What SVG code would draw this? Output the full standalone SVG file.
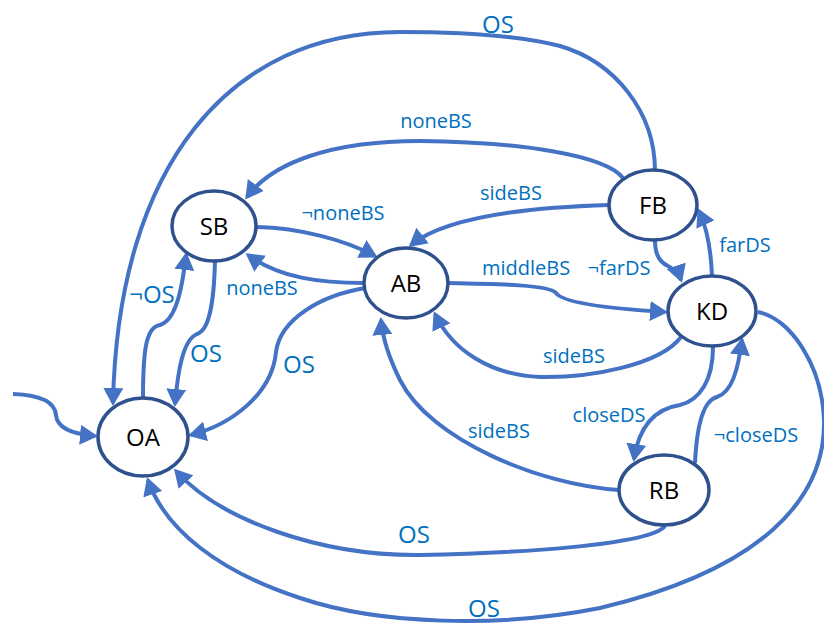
<svg xmlns="http://www.w3.org/2000/svg" width="824" height="624" viewBox="0 0 824 624">
<style>
.e{fill:none;stroke:#4472C4;stroke-width:4;marker-end:url(#ah)}
.n ellipse{fill:#fff;stroke:#2F528F;stroke-width:3.5}
.n text{font-family:"Open Sans","Liberation Sans",sans-serif;font-size:24px;fill:#000;text-anchor:middle}
.l{font-family:"Open Sans","Liberation Sans",sans-serif;font-size:20px;fill:#0070C0;text-anchor:middle}
.o{font-size:24px}
</style>
<defs>
<marker id="ah" viewBox="0 0 18 20" markerWidth="18" markerHeight="20" refX="15" refY="10" orient="auto" markerUnits="userSpaceOnUse">
<path d="M0,0 L18,10 L0,20 z" fill="#4472C4"/>
</marker>
</defs>
<rect width="824" height="624" fill="#fff"/>
<g id="edges">
<path class="e" d="M13,394 C40,395 55,402 56,415 C57,428 72,434 95,436"/>
<path class="e" d="M655,171 C655,112 615,62 560,46 C520,36 460,32 400,32 C230,32 118,165 113,403"/>
<path class="e" d="M623,178 C605,155 520,142 420,141 C330,141 272,163 247,197"/>
<path class="e" d="M609,205 C540,207 448,215 411,245"/>
<path class="e" d="M257,227 C300,228 345,240 375,256"/>
<path class="e" d="M364,283 C320,283 280,278 248,255"/>
<path class="e" d="M143,398 C143,350 146,327 160,325 C173,321 181,300 186,255"/>
<path class="e" d="M215,261 C214,300 210,330 197,334 C183,340 178,370 175,404"/>
<path class="e" d="M366,288 C320,295 280,320 276,352 C272,395 230,425 191,435"/>
<path class="e" d="M448,283 C500,284 550,285 556,293 C562,302 600,308 665,312"/>
<path class="e" d="M655,240 C655,258 662,263 668,266 C674,269 679,274 681,280"/>
<path class="e" d="M712,276 C711,250 708,230 699,211"/>
<path class="e" d="M681,337 C660,365 590,378 540,377 C490,375 452,350 435,314"/>
<path class="e" d="M713,347 C713,380 700,400 680,405 C660,408 640,420 634,459"/>
<path class="e" d="M695,463 C697,420 705,400 717,397 C732,392 738,370 742,340"/>
<path class="e" d="M619,490 C540,485 430,440 400,380 C390,360 383,342 381,320"/>
<path class="e" d="M665,526 C650,545 520,553 420,555 C320,556 220,520 176,471"/>
<path class="e" d="M758,312 C790,318 822,365 824,420 C826,500 760,570 600,608 C500,628 380,625 300,598 C220,572 165,530 148,480"/>
</g>
<g id="labels">
<text class="l o" x="498" y="33">OS</text>
<text class="l" x="436" y="128">noneBS</text>
<text class="l" x="511" y="200">sideBS</text>
<text class="l" x="343" y="220">¬noneBS</text>
<text class="l" x="262" y="295">noneBS</text>
<text class="l o" x="152" y="303">¬OS</text>
<text class="l o" x="206" y="362">OS</text>
<text class="l o" x="299" y="373">OS</text>
<text class="l" x="526" y="275">middleBS</text>
<text class="l" x="619" y="275">¬farDS</text>
<text class="l" x="745" y="252">farDS</text>
<text class="l" x="574" y="363">sideBS</text>
<text class="l" x="609" y="422">closeDS</text>
<text class="l" x="756" y="442">¬closeDS</text>
<text class="l" x="499" y="438">sideBS</text>
<text class="l o" x="414" y="543">OS</text>
<text class="l o" x="484" y="617">OS</text>
</g>
<g id="SB" class="n"><ellipse cx="214" cy="226" rx="42" ry="35"/><text x="214" y="235">SB</text></g>
<g id="AB" class="n"><ellipse cx="406" cy="283" rx="42" ry="35"/><text x="406" y="292">AB</text></g>
<g id="FB" class="n"><ellipse cx="653" cy="205" rx="44" ry="35"/><text x="653" y="214">FB</text></g>
<g id="KD" class="n"><ellipse cx="712" cy="311" rx="44" ry="35"/><text x="712" y="320">KD</text></g>
<g id="RB" class="n"><ellipse cx="664" cy="490" rx="45" ry="35"/><text x="664" y="499">RB</text></g>
<g id="OA" class="n"><ellipse cx="143" cy="437" rx="45" ry="39"/><text x="143" y="446">OA</text></g>
</svg>
